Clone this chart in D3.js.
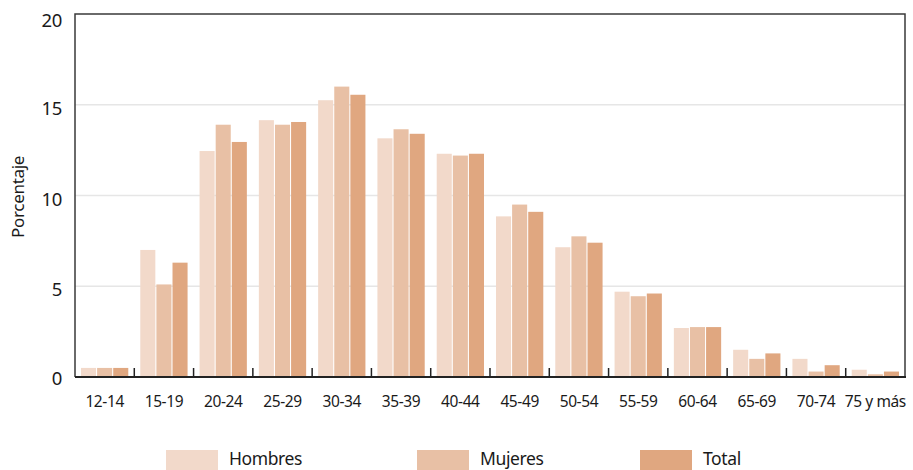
<!DOCTYPE html>
<html><head><meta charset="utf-8">
<script src="https://cdn.jsdelivr.net/npm/d3@7/dist/d3.min.js"></script>
<style>body{margin:0;background:#fff}svg{display:block}text{font-family:"Noto Sans",sans-serif;fill:#1a1a1a}</style>
</head><body><svg id="c" width="913" height="470"></svg>
<script>
const categories = ["12-14","15-19","20-24","25-29","30-34","35-39","40-44","45-49","50-54","55-59","60-64","65-69","70-74","75 y más"];
const hombres = [0.5,7.0,12.45,14.15,15.25,13.15,12.3,8.85,7.15,4.7,2.7,1.5,1.0,0.4];
const mujeres = [0.5,5.1,13.9,13.9,16.0,13.65,12.2,9.5,7.75,4.45,2.75,1.0,0.3,0.15];
const total   = [0.5,6.3,12.95,14.05,15.55,13.4,12.3,9.1,7.4,4.6,2.75,1.3,0.65,0.3];
const seriesNames = ["Hombres","Mujeres","Total"];
const yTicks = [0,5,10,15,20];

const colors = ["#f2d9ca","#e8c0a5","#e0a780"];
const seriesVals = [hombres, mujeres, total];
const svg = d3.select("#c");
const L = 75, R = 905, T = 14, B = 377;

const x = d3.scaleBand().domain(categories).range([L, R]);
const xi = d3.scaleBand().domain(seriesNames).range([6, x.bandwidth() - 6]).paddingInner(0.065);
const y = d3.scaleLinear().domain([0, 20]).range([B, T]);

// grid
svg.append("g").selectAll("line").data(yTicks.filter(d => d > 0 && d < 20)).join("line")
  .attr("x1", L).attr("x2", R).attr("y1", d => y(d)).attr("y2", d => y(d))
  .attr("stroke", "#e6e6e6").attr("stroke-width", 1.5);

// bars
const data = [];
categories.forEach((c, i) => seriesNames.forEach((s, j) => data.push({c, s, j, v: seriesVals[j][i]})));
svg.append("g").selectAll("rect").data(data).join("rect")
  .attr("x", d => x(d.c) + xi(d.s)).attr("width", xi.bandwidth())
  .attr("y", d => y(d.v)).attr("height", d => B - y(d.v))
  .attr("fill", d => colors[d.j]);

// frame
svg.append("path").attr("d", `M${L},${B}V${T}H${R}V${B}`).attr("fill", "none").attr("stroke", "#3a3a3a").attr("stroke-width", 1.5);
svg.append("line").attr("x1", L).attr("x2", R + 1).attr("y1", B).attr("y2", B).attr("stroke", "#222").attr("stroke-width", 2);

// x ticks (between categories, pointing up)
svg.append("g").selectAll("line").data(categories.slice(1)).join("line")
  .attr("x1", d => x(d)).attr("x2", d => x(d)).attr("y1", B).attr("y2", B - 9)
  .attr("stroke", "#222").attr("stroke-width", 1.5);

// x labels
svg.append("g").selectAll("text").data(categories).join("text")
  .attr("x", d => x(d) + x.bandwidth() / 2).attr("y", 407)
  .attr("text-anchor", "middle").attr("font-size", 15.5).attr("letter-spacing", "-0.4px")
  .text(d => d);

// y labels
svg.append("g").selectAll("text").data(yTicks).join("text")
  .attr("x", 62).attr("y", d => y(d) + (d === 20 ? 13 : d === 0 ? 8 : 10))
  .attr("text-anchor", "end").attr("font-size", 18.5).attr("letter-spacing", "-0.3px")
  .text(d => d);

// y title
svg.append("text").attr("transform", "translate(24,197) rotate(-90)")
  .attr("text-anchor", "middle").attr("font-size", 17).attr("letter-spacing", "-0.3px").text("Porcentaje");

// legend
const legX = [166, 417, 640];
const lg = svg.append("g").selectAll("g").data(seriesNames).join("g")
  .attr("transform", (d, i) => `translate(${legX[i]},0)`);
lg.append("rect").attr("x", 0).attr("y", 450).attr("width", 52).attr("height", 20).attr("fill", (d, i) => colors[i]);
lg.append("text").attr("x", 63).attr("y", 465).attr("font-size", 17.5).attr("letter-spacing", "-0.4px").text(d => d);
</script></body></html>
